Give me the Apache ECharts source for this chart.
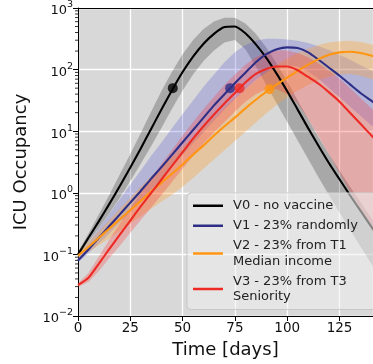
<!DOCTYPE html>
<html>
<head>
<meta charset="utf-8">
<script src="https://cdn.jsdelivr.net/npm/echarts@6/dist/echarts.min.js"></script>
<style>
html,body{margin:0;padding:0;background:#fff;}
#c{width:373px;height:364px;}
</style>
</head>
<body>
<div id="c"></div>
<script>
// Time points (days)
const T = [0,5,10,15,20,25,30,35,40,45,50,55,60,65,70,75,80,85,90,95,100,105,110,115,120,125,130,135,140,142];
// All curve values are log10(ICU occupancy).
const v0Line = [-1.0,-0.73,-0.46,-0.18,0.11,0.41,0.72,1.04,1.36,1.67,1.96,2.21,2.42,2.58,2.69,2.70,2.59,2.41,2.19,1.93,1.65,1.35,1.05,0.76,0.48,0.22,-0.04,-0.29,-0.54,-0.64];
const v0Lo   = [-1.04,-0.80,-0.57,-0.33,-0.08,0.19,0.47,0.76,1.06,1.37,1.66,1.92,2.14,2.31,2.44,2.48,2.33,2.05,1.75,1.45,1.15,0.85,0.55,0.25,-0.04,-0.32,-0.6,-0.87,-1.14,-1.25];
const v0Hi   = [-0.96,-0.66,-0.35,-0.03,0.30,0.63,0.97,1.32,1.66,1.97,2.25,2.48,2.66,2.78,2.84,2.84,2.75,2.58,2.36,2.1,1.81,1.5,1.2,0.9,0.62,0.36,0.1,-0.15,-0.4,-0.5];

const v1Line = [-1.1,-0.92,-0.73,-0.54,-0.35,-0.16,0.03,0.23,0.42,0.62,0.82,1.02,1.22,1.42,1.6,1.78,1.95,2.12,2.25,2.33,2.36,2.35,2.28,2.16,2.03,1.9,1.76,1.62,1.5,1.45];
const v1Lo   = [-1.13,-0.98,-0.82,-0.66,-0.48,-0.31,-0.13,0.05,0.23,0.42,0.61,0.8,0.98,1.17,1.35,1.52,1.68,1.83,1.95,2.03,2.07,2.05,1.97,1.85,1.7,1.55,1.4,1.25,1.1,1.05];
const v1Hi   = [-1.05,-0.82,-0.58,-0.34,-0.1,0.13,0.36,0.6,0.82,1.05,1.28,1.5,1.72,1.92,2.12,2.28,2.4,2.47,2.5,2.5,2.49,2.47,2.43,2.38,2.32,2.24,2.16,2.07,1.99,1.96];

const v2Line = [-1.02,-0.88,-0.73,-0.58,-0.43,-0.28,-0.13,0.02,0.17,0.31,0.46,0.62,0.77,0.93,1.08,1.22,1.37,1.51,1.64,1.76,1.87,1.98,2.08,2.17,2.24,2.28,2.29,2.27,2.23,2.21];
const v2Lo   = [-1.06,-0.96,-0.85,-0.74,-0.62,-0.5,-0.38,-0.26,-0.14,-0.03,0.1,0.24,0.39,0.54,0.69,0.84,0.99,1.14,1.29,1.43,1.55,1.66,1.75,1.83,1.89,1.92,1.93,1.9,1.85,1.83];
const v2Hi   = [-0.98,-0.8,-0.62,-0.44,-0.26,-0.08,0.1,0.27,0.43,0.58,0.74,0.9,1.06,1.22,1.38,1.53,1.68,1.82,1.96,2.08,2.18,2.27,2.34,2.4,2.44,2.46,2.47,2.45,2.41,2.39];

const v3Line = [-1.5,-1.38,-1.15,-0.91,-0.68,-0.45,-0.22,0.0,0.22,0.44,0.66,0.88,1.08,1.27,1.45,1.62,1.79,1.93,2.01,2.05,2.05,1.99,1.88,1.77,1.63,1.48,1.3,1.12,0.94,0.87];
const v3Lo   = [-1.53,-1.45,-1.27,-1.06,-0.86,-0.65,-0.44,-0.24,-0.03,0.18,0.39,0.6,0.8,0.98,1.15,1.32,1.48,1.6,1.68,1.68,1.6,1.45,1.2,0.92,0.62,0.32,0.02,-0.28,-0.58,-0.7];
const v3Hi   = [-1.47,-1.3,-1.03,-0.76,-0.5,-0.25,0.0,0.24,0.47,0.7,0.93,1.15,1.36,1.56,1.75,1.92,2.08,2.2,2.28,2.31,2.31,2.27,2.2,2.1,1.98,1.85,1.7,1.54,1.38,1.32];

// Markers where each curve reaches ~50 occupied beds
const dotT = [45.3, 72.7, 91.5, 77.2];
const dotV = [50, 50, 48, 50];

const names = ['V0 - no vaccine', 'V1 - 23% randomly', 'V2 - 23% from T1\nMedian income', 'V3 - 23% from T3\nSeniority'];

const lineColors = ['#000000', '#2e2e86', '#ff9512', '#ee2a24'];
const bandColors = ['rgba(0,0,0,0.22)', 'rgba(70,70,210,0.25)', 'rgba(255,160,40,0.32)', 'rgba(255,50,50,0.28)'];

const FONT = 'DejaVu Sans';
const toV = e => Math.pow(10, e);

function lineData(arr) { return T.map((t, i) => [t, toV(arr[i])]); }

function band(lo, hi, color) {
  const data = T.map((t, i) => [t, toV(lo[i]), toV(hi[i])]);
  return {
    type: 'custom', silent: true, z: 1, clip: true,
    data: data,
    encode: { x: 0, y: [1, 2] },
    renderItem: function (params, api) {
      if (params.dataIndex !== 0) return null;
      const pts = [];
      for (let i = 0; i < data.length; i++) pts.push(api.coord([data[i][0], data[i][2]]));
      for (let i = data.length - 1; i >= 0; i--) pts.push(api.coord([data[i][0], data[i][1]]));
      return { type: 'polygon', shape: { points: pts }, style: { fill: color } };
    }
  };
}

function line(name, arr, color) {
  return {
    type: 'line', name: name, data: lineData(arr), z: 3,
    showSymbol: false, smooth: 0.2,
    lineStyle: { color: color, width: 2.1 }, itemStyle: { color: color },
    clip: true
  };
}

// minor ticks on the log axis (2..9 x 10^n)
const minorVals = [];
for (let d = -2; d < 3; d++) for (let m = 2; m <= 9; m++) minorVals.push(m * Math.pow(10, d));

const series = [
  band(v0Lo, v0Hi, bandColors[0]),
  band(v1Lo, v1Hi, bandColors[1]),
  band(v2Lo, v2Hi, bandColors[2]),
  band(v3Lo, v3Hi, bandColors[3]),
  line(names[0], v0Line, lineColors[0]),
  line(names[1], v1Line, lineColors[1]),
  line(names[2], v2Line, lineColors[2]),
  line(names[3], v3Line, lineColors[3]),
  {
    type: 'scatter', z: 4, symbolSize: 10,
    data: dotT.map((t, i) => ({ value: [t, dotV[i]], itemStyle: { color: lineColors[i] } }))
  },
  {
    type: 'custom', silent: true, z: 5, clip: false,
    data: minorVals.map(v => [0, v]),
    renderItem: function (params, api) {
      const p = api.coord([0, api.value(1)]);
      return { type: 'line', shape: { x1: p[0] - 3, y1: p[1], x2: p[0], y2: p[1] }, style: { stroke: '#000', lineWidth: 0.8 } };
    }
  }
];

const chart = echarts.init(document.getElementById('c'), null, { renderer: 'canvas' });
chart.setOption({
  animation: false,
  backgroundColor: '#ffffff',
  textStyle: { fontFamily: FONT },
  grid: { left: 78, top: 8, right: 0, bottom: 48, show: true, backgroundColor: '#d8d8d8', borderWidth: 0 },
  xAxis: [{
    type: 'value', min: 0, max: 141, interval: 25,
    axisLine: { show: true, onZero: false, lineStyle: { color: '#000', width: 1 } },
    axisTick: { show: true, length: 5, lineStyle: { color: '#000' } },
    axisLabel: { fontSize: 13.5, color: '#111', margin: 5, fontFamily: FONT, showMaxLabel: false },
    splitLine: { show: true, lineStyle: { color: '#ffffff', width: 1.3 } },
    name: 'Time [days]', nameLocation: 'middle', nameGap: 25,
    nameTextStyle: { fontSize: 18, color: '#111', fontFamily: FONT }
  }, {
    type: 'value', position: 'top', min: 0, max: 141,
    axisLine: { show: true, lineStyle: { color: '#000', width: 1 } },
    axisTick: { show: false }, axisLabel: { show: false }, splitLine: { show: false }
  }],
  yAxis: {
    type: 'log', logBase: 10, min: 0.01, max: 1000, splitNumber: 5,
    axisLine: { show: true, onZero: false, lineStyle: { color: '#000', width: 1 } },
    axisTick: { show: true, length: 5, lineStyle: { color: '#000' } },
    splitLine: { show: true, lineStyle: { color: '#ffffff', width: 1.3 } },
    axisLabel: {
      margin: 5, color: '#111', fontFamily: FONT,
      formatter: function (v) {
        const e = Math.round(Math.log10(v));
        return '{b|10}{s|' + String(e).replace('-', '\u2212') + '}';
      },
      rich: {
        b: { fontSize: 13, fontFamily: FONT, color: '#111', padding: [6, 0, 0, 0] },
        s: { fontSize: 9.5, fontFamily: FONT, color: '#111', padding: [0, 0, 6, 0] }
      }
    },
    name: 'ICU Occupancy', nameLocation: 'middle', nameGap: 48,
    nameTextStyle: { fontSize: 18, color: '#111', fontFamily: FONT }
  },
  legend: {
    data: names, orient: 'vertical', left: 187, top: 193,
    icon: 'rect', itemWidth: 30, itemHeight: 2.5, itemGap: 4.5,
    padding: [5, 24, 5, 6],
    backgroundColor: 'rgba(240,240,240,0.55)', borderColor: '#c8c8c8', borderWidth: 1, borderRadius: 4,
    textStyle: { fontSize: 13, lineHeight: 15.5, color: '#222', fontFamily: FONT, padding: [0, 0, 0, 5] },
    selectedMode: false
  },
  series: series
});
</script>
</body>
</html>
